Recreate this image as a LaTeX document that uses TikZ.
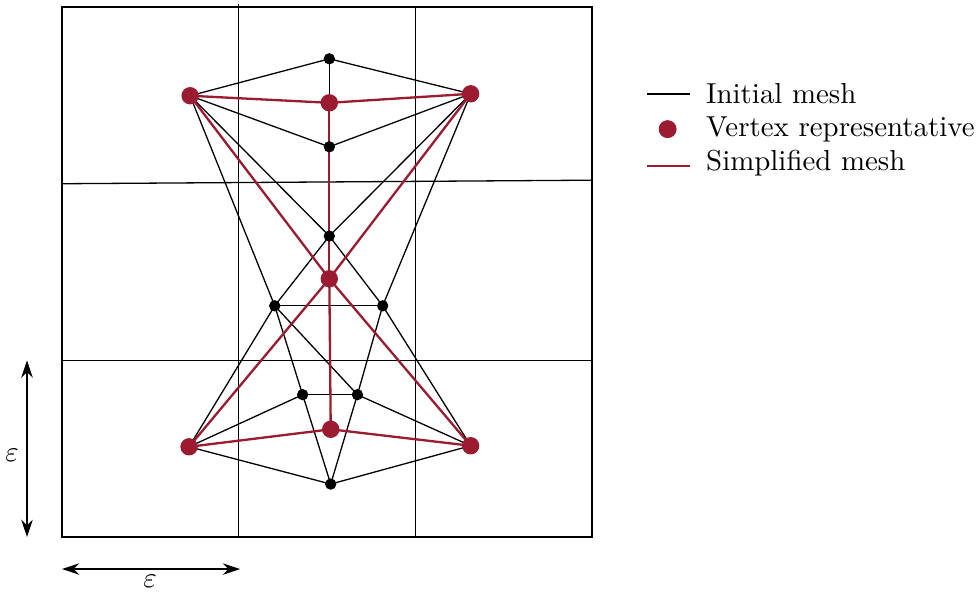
\documentclass[tikz,border=0pt]{standalone}
\usepackage{amsmath}
\usepackage{xcolor}
\usetikzlibrary{arrows.meta}
\definecolor{simred}{RGB}{155,27,48}

\begin{document}
\begin{tikzpicture}[x=2.149cm, y=2.149cm,
    initial/.style={black, line width=0.45pt},
    simplified/.style={simred, line width=0.8pt},
    legtext/.style={anchor=base west, inner sep=0pt}]
\useasboundingbox (-0.351,-0.311) rectangle (5.179,3.040);

% Grid cells
\draw[initial] (0,0) rectangle (3,3);
\draw[initial] (1,0) -- (1,3.02);
\draw[initial] (2,0) -- (2,3.0);
\draw[initial] (0,1) -- (3,1);
\draw[initial] (0,2.0) -- (3,2.02);

% Initial vertices
\coordinate (t0) at (1.513,2.707);
\coordinate (l1) at (0.725,2.498);
\coordinate (r1) at (2.313,2.509);
\coordinate (b1) at (1.513,2.209);
\coordinate (b2) at (1.513,1.704);
\coordinate (ml) at (1.204,1.309);
\coordinate (mr) at (1.815,1.309);
\coordinate (bl) at (1.362,0.806);
\coordinate (br) at (1.672,0.806);
\coordinate (l2) at (0.719,0.511);
\coordinate (r2) at (2.313,0.517);
\coordinate (bot) at (1.521,0.300);

% Vertex representatives
\coordinate (m1) at (1.513,2.458);
\coordinate (c) at (1.513,1.462);
\coordinate (m2) at (1.521,0.610);

% Initial mesh
\foreach \a/\b in {t0/l1, t0/r1, t0/b1, l1/b1, r1/b1, b1/b2, l1/b2, r1/b2,
    b2/ml, b2/mr, l1/ml, r1/mr, ml/mr, ml/l2, ml/bl, ml/br, mr/br, mr/r2,
    bl/br, l2/bl, r2/br, l2/bot, r2/bot, bl/bot, br/bot} {
    \draw[initial] (\a) -- (\b);
}

% Simplified mesh
\foreach \a/\b in {l1/m1, m1/r1, m1/c, l1/c, r1/c, c/l2, c/r2, c/m2, l2/m2, m2/r2} {
    \draw[simplified] (\a) -- (\b);
}

% Vertices
\foreach \v in {t0, b1, b2, ml, mr, bl, br, bot} {
    \filldraw[black] (\v) circle (1.75pt);
}
\foreach \v in {l1, r1, l2, r2, m1, c, m2} {
    \filldraw[simred] (\v) circle (2.8pt);
}

% Cell size
\coordinate (ey0) at (-0.198,1.0);
\coordinate (ey1) at (-0.198,0.0);
\coordinate (ex0) at (0.0,-0.181);
\coordinate (ex1) at (1.008,-0.181);
\draw[{Stealth[length=6pt,width=4pt]}-{Stealth[length=6pt,width=4pt]}, line width=0.45pt] (ey0) -- (ey1);
\draw[{Stealth[length=6pt,width=4pt]}-{Stealth[length=6pt,width=4pt]}, line width=0.45pt] (ex0) -- (ex1);
\node (epsy) at (-0.283,0.464) {$\varepsilon$};
\node (epsx) at (0.498,-0.252) {$\varepsilon$};

% Legend
\draw[initial] (3.311,2.508) -- (3.555,2.508);
\node[legtext] (leginit) at (3.643,2.455) {Initial mesh};
\filldraw[simred] (3.428,2.309) circle (2.9pt);
\node[legtext] (legrep) at (3.643,2.266) {Vertex representative};
\draw[simplified] (3.311,2.100) -- (3.555,2.100);
\node[legtext] (legsimp) at (3.643,2.077) {Simplified mesh};
\end{tikzpicture}
\end{document}
